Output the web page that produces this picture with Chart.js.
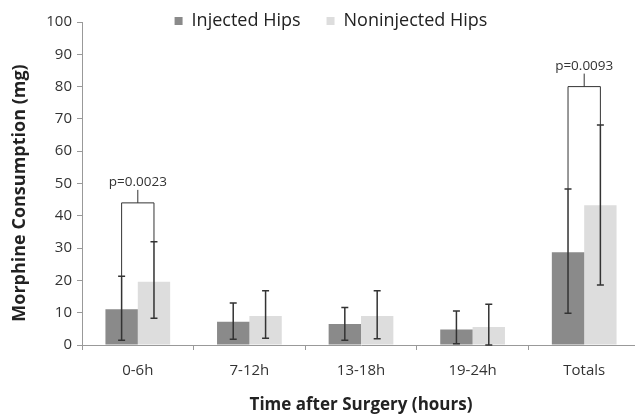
<!DOCTYPE html>
<html>
<head>
<meta charset="utf-8">
<script src="https://cdn.jsdelivr.net/npm/chart.js@4.4.1/dist/chart.umd.min.js"></script>
<style>
  html, body { margin: 0; padding: 0; background: #fff; overflow: hidden; }
  #wrap { width: 640px; height: 418px; }
</style>
</head>
<body>
<div id="wrap"><canvas id="myChart"></canvas></div>
<script>
// data
const categories = ['0-6h', '7-12h', '13-18h', '19-24h', 'Totals'];
const injectedMean = [11.1, 7.2, 6.5, 4.8, 28.7];
const injectedLow = [1.5, 1.8, 1.5, 0.4, 9.8];
const injectedHigh = [21.3, 13, 11.6, 10.5, 48.3];
const noninjectedMean = [19.6, 9, 9, 5.6, 43.3];
const noninjectedLow = [8.3, 2.1, 1.9, 0, 18.6];
const noninjectedHigh = [32, 16.8, 16.8, 12.6, 68.1];
const yTicks = [0, 10, 20, 30, 40, 50, 60, 70, 80, 90, 100];
const brackets = [
    {index: 0, level: 44, label: 'p=0.0023'},
    {index: 4, level: 80, label: 'p=0.0093'}
];

const errLow = [injectedLow, noninjectedLow];
const errHigh = [injectedHigh, noninjectedHigh];

const font = "'Open Sans', sans-serif";

// squeeze the legend so the plot starts right under it
const legendSqueeze = {
    id: 'legendSqueeze',
    beforeLayout(chart) {
        const lg = chart.legend;
        if (lg && !lg._squeezed) {
            const fit = lg.fit;
            lg.fit = function () {
                fit.call(this);
                this.height = 22;
            };
            lg._squeezed = true;
        }
    },
    afterLayout(chart) {
        // give the legend room to draw again (it clips to its box), nudge it into place
        const lg = chart.legend;
        lg.top -= 14;
        lg.height = 50;
        lg.bottom = lg.top + 50;
        lg.left += 11;
        lg.right += 11;
    }
};

const errorBars = {
    id: 'errorBars',
    afterDatasetsDraw(chart) {
        const ctx = chart.ctx;
        const y = chart.scales.y;
        ctx.save();
        ctx.strokeStyle = '#333';
        ctx.lineWidth = 1.5;
        [0, 1].forEach((d) => {
            chart.getDatasetMeta(d).data.forEach((bar, i) => {
                const top = y.getPixelForValue(errHigh[d][i]);
                const bot = y.getPixelForValue(errLow[d][i]);
                ctx.beginPath();
                ctx.moveTo(bar.x, top);
                ctx.lineTo(bar.x, bot);
                ctx.moveTo(bar.x - 3.5, top);
                ctx.lineTo(bar.x + 3.5, top);
                ctx.moveTo(bar.x - 3.5, bot);
                ctx.lineTo(bar.x + 3.5, bot);
                ctx.stroke();
            });
        });

        // significance brackets
        ctx.lineWidth = 1;
        ctx.fillStyle = '#333';
        ctx.font = '13.5px ' + font;
        ctx.textAlign = 'center';
        ctx.textBaseline = 'bottom';
        brackets.forEach((b) => {
            const x1 = chart.getDatasetMeta(0).data[b.index].x;
            const x2 = chart.getDatasetMeta(1).data[b.index].x;
            const by = y.getPixelForValue(b.level);
            const cx = (x1 + x2) / 2;
            ctx.beginPath();
            ctx.moveTo(x1, y.getPixelForValue(errHigh[0][b.index]));
            ctx.lineTo(x1, by);
            ctx.lineTo(x2, by);
            ctx.lineTo(x2, y.getPixelForValue(errHigh[1][b.index]));
            ctx.moveTo(cx, by);
            ctx.lineTo(cx, by - 13);
            ctx.stroke();
            ctx.fillText(b.label, cx, by - 14);
        });
        ctx.restore();
    }
};

const axisTitles = {
    id: 'axisTitles',
    afterDraw(chart) {
        const ctx = chart.ctx;
        const a = chart.chartArea;
        ctx.save();
        ctx.fillStyle = '#222';
        ctx.textAlign = 'center';
        ctx.textBaseline = 'middle';
        ctx.font = 'bold 17px ' + font;
        ctx.fillText('Time after Surgery (hours)', (a.left + a.right) / 2, 405);
        ctx.font = 'bold 18px ' + font;
        ctx.translate(20, 193);
        ctx.rotate(-Math.PI / 2);
        ctx.fillText('Morphine Consumption (mg)', 0, 0);
        ctx.restore();
    }
};

new Chart(document.getElementById('myChart'), {
    type: 'bar',
    data: {
        labels: categories,
        datasets: [{
            label: 'Injected Hips',
            data: injectedMean,
            backgroundColor: '#8a8a8a',
            borderWidth: 0
        }, {
            label: 'Noninjected Hips',
            data: noninjectedMean,
            backgroundColor: '#dddddd',
            borderWidth: 0
        }]
    },
    options: {
        responsive: true,
        maintainAspectRatio: false,
        animation: false,
        layout: {padding: {top: 0, left: 0, right: 0, bottom: 0}},
        datasets: {bar: {categoryPercentage: 0.58, barPercentage: 1}},
        plugins: {
            legend: {
                position: 'top',
                labels: {
                    boxWidth: 8,
                    boxHeight: 8,
                    padding: 26,
                    color: '#222',
                    font: {family: font, size: 18}
                }
            },
            tooltip: {enabled: false}
        },
        scales: {
            x: {
                grid: {drawOnChartArea: false, drawTicks: true, tickLength: 5, color: '#999'},
                border: {color: '#999'},
                ticks: {color: '#333', padding: 12, font: {family: font, size: 15}},
                afterFit(s) { s.height = 73; }
            },
            y: {
                min: 0,
                max: 100,
                afterBuildTicks(s) { s.ticks = yTicks.map((v) => ({value: v})); },
                grid: {drawOnChartArea: false, drawTicks: true, tickLength: 5, color: '#999'},
                border: {color: '#999'},
                ticks: {color: '#333', padding: 5, font: {family: font, size: 15}},
                afterFit(s) { s.width = 82; }
            }
        }
    },
    plugins: [legendSqueeze, errorBars, axisTitles]
});
</script>
</body>
</html>
